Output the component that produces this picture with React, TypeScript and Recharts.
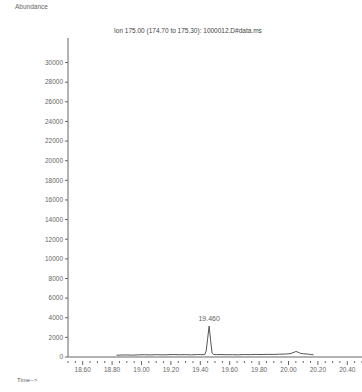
import { LineChart, Line, XAxis, YAxis } from "recharts";

const times = [
  18.83, 18.86, 18.9, 18.94, 18.98, 19.02, 19.06, 19.1, 19.14, 19.18, 19.22, 19.26, 19.3, 19.34,
  19.38, 19.41, 19.43, 19.44, 19.45, 19.46, 19.47, 19.48, 19.49, 19.51, 19.54, 19.58, 19.62,
  19.66, 19.7, 19.74, 19.78, 19.82, 19.86, 19.9, 19.94, 19.98, 20.01, 20.03, 20.05, 20.06,
  20.08, 20.1, 20.13, 20.15, 20.17,
];
const abundance = [
  180, 200, 210, 190, 220, 230, 210, 240, 220, 230, 250, 230, 240, 220, 250, 240, 260, 600,
  1900, 3150, 1700, 420, 260, 240, 250, 230, 240, 220, 250, 240, 260, 250, 270, 260, 290, 300,
  340, 430, 560, 520, 380, 330, 300, 260, 220,
];
const yTicks = [0, 2000, 4000, 6000, 8000, 10000, 12000, 14000, 16000, 18000, 20000, 22000, 24000, 26000, 28000, 30000];
const xTicks = Array.from({ length: 41 }, (_, i) => Math.round((18.5 + i * 0.05) * 100) / 100);
const majorLabels = ["18.60", "18.80", "19.00", "19.20", "19.40", "19.60", "19.80", "20.00", "20.20", "20.40"];
const peakTime = 19.46;

const data = times.map((t, i) => ({ t, v: abundance[i] }));

const gray = "#666";

const XTick = (props: any) => {
  const { x, y, payload } = props;
  const label = payload.value.toFixed(2);
  const major = majorLabels.includes(label);
  return (
    <g>
      <line x1={x} x2={x} y1={y - 4} y2={y - 4 + (major ? 4 : 2)} stroke={gray} strokeWidth={1} />
      {major && (
        <text x={x} y={y + 7} textAnchor="middle" fontSize={6.5} fill={gray} fontFamily="Liberation Sans, Arial">
          {label}
        </text>
      )}
    </g>
  );
};

const PeakLabel = (props: any) => {
  const { x, y, index } = props;
  if (times[index] !== peakTime) return null;
  return (
    <text x={x} y={y - 5} textAnchor="middle" fontSize={7} fill={gray} fontFamily="Liberation Sans, Arial">
      {peakTime.toFixed(3)}
    </text>
  );
};

export default function App() {
  return (
    <div style={{ position: "absolute", left: 0, top: 0, width: 362, height: 392, background: "#fff", fontFamily: "Liberation Sans, Arial" }}>
      <div style={{ position: "absolute", left: 15, top: 3, fontSize: 6.5, color: gray }}>Abundance</div>
      <div style={{ position: "absolute", left: 114, top: 27, fontSize: 6.5, color: "#444" }}>
        Ion 175.00 (174.70 to 175.30): 1000012.D#data.ms
      </div>
      <div style={{ position: "absolute", left: 17, top: 377, fontSize: 6, color: gray }}>Time--&gt;</div>
      <LineChart width={362} height={392} data={data} margin={{ top: 38, right: 0, bottom: 15, left: 0 }}>
        <XAxis
          dataKey="t"
          type="number"
          domain={[18.5, 20.5]}
          ticks={xTicks}
          interval={0}
          tick={<XTick />}
          tickLine={false}
          axisLine={{ stroke: gray }}
          height={20}
          allowDataOverflow
        />
        <YAxis
          type="number"
          domain={[0, 32500]}
          ticks={yTicks}
          interval={0}
          width={68}
          tickSize={3}
          tickLine={{ stroke: gray }}
          axisLine={{ stroke: gray }}
          tick={{ fontSize: 6.5, fill: gray }}
          allowDataOverflow
        />
        <Line
          dataKey="v"
          type="linear"
          stroke="#555"
          strokeWidth={1}
          dot={false}
          isAnimationActive={false}
          label={<PeakLabel />}
        />
      </LineChart>
    </div>
  );
}
